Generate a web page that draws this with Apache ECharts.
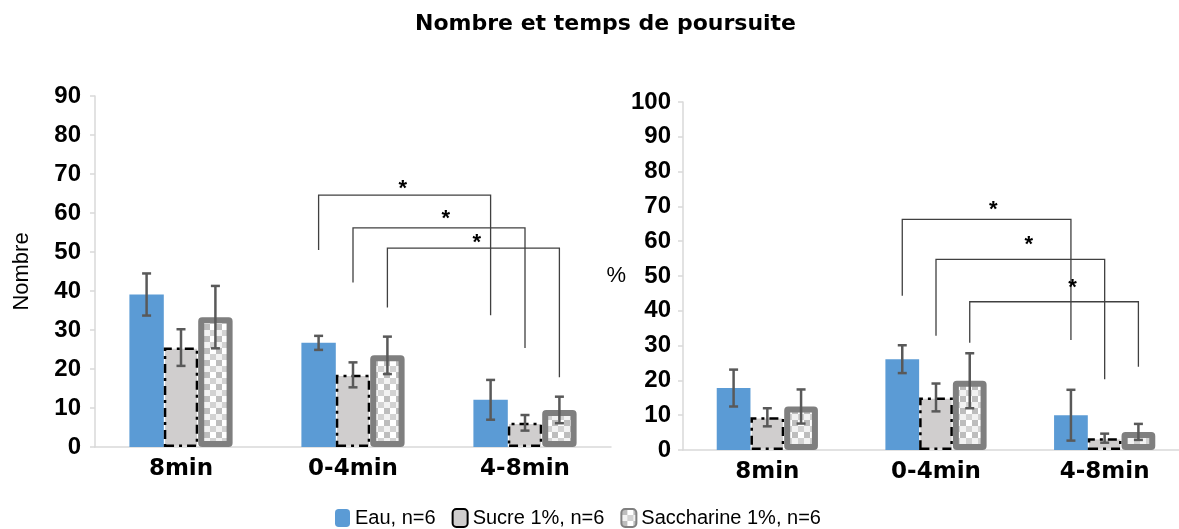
<!DOCTYPE html>
<html>
<head>
<meta charset="utf-8">
<script src="https://cdn.jsdelivr.net/npm/echarts@6/dist/echarts.min.js"></script>
<style>html,body{margin:0;padding:0;background:#fff;overflow:hidden;}#c{width:1179px;height:529px;}</style>
</head>
<body>
<div id="c"></div>
<script>
// ---- data ----
const categories = ['8min', '0-4min', '4-8min'];
const seriesNames = ['Eau, n=6', 'Sucre 1%, n=6', 'Saccharine 1%, n=6'];
const titleText = 'Nombre et temps de poursuite';

const nombreEau = [39.1, 26.7, 12.1];
const nombreSucre = [25.5, 18.5, 6.2];
const nombreSacch = [33.3, 23.5, 9.5];
const nombreEauErr = [5.4, 1.8, 5.1];
const nombreSucreErr = [4.7, 3.2, 2.0];
const nombreSacchErr = [8.0, 4.8, 3.4];

const pctEau = [17.8, 26.1, 10.0];
const pctSucre = [9.4, 15.1, 3.4];
const pctSacch = [12.5, 19.9, 5.2];
const pctEauErr = [5.3, 4.0, 7.3];
const pctSucreErr = [2.6, 4.0, 1.3];
const pctSacchErr = [4.9, 7.9, 2.3];

const nombreAxis = { min: 0, max: 90, interval: 10, name: 'Nombre' };
const pctAxis = { min: 0, max: 100, interval: 10, name: '%' };

// significance brackets: [seriesIdx, fromCat, toCat, leftEnd, top, rightEnd, starFrac, starValue]
const nombreBrackets = [
  [0, 1, 2, 50.5, 64.6, 33.8, 0.49, 67.4],
  [1, 1, 2, 42.2, 56.2, 25.4, 0.54, 59.7],
  [2, 1, 2, 35.8, 51.0, 17.9, 0.52, 53.6]
];
const pctBrackets = [
  [0, 1, 2, 44.3, 66.3, 31.6, 0.54, 70.4],
  [1, 1, 2, 32.8, 54.8, 20.3, 0.55, 60.3],
  [2, 1, 2, 30.8, 42.6, 23.9, 0.61, 48.0]
];

// ---- styles ----
function makeChecker() {
  const c = document.createElement('canvas');
  c.width = 12; c.height = 12;
  const g = c.getContext('2d');
  g.fillStyle = '#f2f2f2'; g.fillRect(0, 0, 12, 12);
  g.fillStyle = '#bdbdbd'; g.fillRect(0, 0, 6, 6);
  g.fillStyle = '#d2d2d2'; g.fillRect(6, 6, 6, 6);
  g.fillStyle = '#ffffff'; g.fillRect(6, 0, 6, 6);
  return c;
}
const checker = makeChecker();
const styles = [
  { color: '#5B9BD5' },
  { color: '#D0CECE', borderColor: '#000', borderWidth: 2.5, borderType: [9, 5, 3, 5] },
  { color: { image: checker, repeat: 'repeat' }, borderColor: '#7F7F7F', borderWidth: 6, borderRadius: 1 }
];

const BAND_FRAC = 0.2; // bar width / band width (barCategoryGap 40%, 3 bars)

function errData(vals, errs) {
  const out = [];
  vals.forEach((v, s) => v.forEach((x, c) => out.push([c, s, x - errs[s][c], x + errs[s][c]])));
  return out;
}
function renderErr(params, api) {
  const c = api.value(0), s = api.value(1);
  const band = api.size([1, 0])[0];
  const cx = api.coord([c, 0])[0] + (s - 1) * band * BAND_FRAC;
  const yl = api.coord([c, api.value(2)])[1];
  const yh = api.coord([c, api.value(3)])[1];
  const st = { stroke: '#595959', lineWidth: 2.5 };
  const w = 4.5;
  return { type: 'group', children: [
    { type: 'line', shape: { x1: cx, y1: yh, x2: cx, y2: yl }, style: st },
    { type: 'line', shape: { x1: cx - w, y1: yh, x2: cx + w, y2: yh }, style: st },
    { type: 'line', shape: { x1: cx - w, y1: yl, x2: cx + w, y2: yl }, style: st }
  ]};
}
function renderBracket(params, api) {
  const s = api.value(0), c1 = api.value(1), c2 = api.value(2);
  const band = api.size([1, 0])[0];
  const x1 = api.coord([c1, 0])[0] + (s - 1) * band * BAND_FRAC;
  const x2 = api.coord([c2, 0])[0] + (s - 1) * band * BAND_FRAC;
  const yL = api.coord([c1, api.value(3)])[1];
  const yT = api.coord([c1, api.value(4)])[1];
  const yR = api.coord([c2, api.value(5)])[1];
  const sx = x1 + (x2 - x1) * api.value(6);
  const sy = api.coord([c1, api.value(7)])[1];
  return { type: 'group', children: [
    { type: 'polyline', shape: { points: [[x1, yL], [x1, yT], [x2, yT], [x2, yR]] },
      style: { stroke: '#404040', lineWidth: 1.3, fill: null } },
    { type: 'text', x: sx, y: sy + 5, style: { text: '*', fill: '#000', font: 'bold 22px "Liberation Sans"', align: 'center', verticalAlign: 'middle' } }
  ]};
}

const axisLabelY = { color: '#000', fontFamily: 'Liberation Sans', fontWeight: 'bold', fontSize: 24 };
const axisLabelX = { color: '#000', fontFamily: 'DejaVu Sans', fontWeight: 'bold', fontSize: 23, margin: 11 };
const axisLine = { show: true, lineStyle: { color: '#D9D9D9', width: 1.5 } };

function yAxisCfg(ax, gridIndex, nameCfg, margin) {
  return Object.assign({
    type: 'value', gridIndex: gridIndex, min: ax.min, max: ax.max, interval: ax.interval,
    name: ax.name, nameLocation: 'middle',
    nameTextStyle: { color: '#000', fontFamily: 'Liberation Sans', fontSize: 22 },
    axisLine: axisLine, axisTick: { show: true, length: 5, lineStyle: { color: '#D9D9D9', width: 1.5 } },
    splitLine: { show: false },
    axisLabel: Object.assign({ margin: margin }, axisLabelY)
  }, nameCfg);
}

function barSeries(vals, axisIdx) {
  return vals.map((v, s) => ({
    type: 'bar', name: seriesNames[s], xAxisIndex: axisIdx, yAxisIndex: axisIdx,
    data: v, barGap: '0%', barCategoryGap: '40%', itemStyle: styles[s], z: 2
  }));
}

const chart = echarts.init(document.getElementById('c'));
chart.setOption({
  animation: false,
  backgroundColor: '#fff',
  title: { text: titleText, left: 410, top: 8,
    textStyle: { fontFamily: 'DejaVu Sans', fontWeight: 'bold', fontSize: 22, color: '#000' } },
  legend: {
    data: seriesNames, left: 330, top: 503, itemWidth: 15, itemHeight: 18, itemGap: 16,
    textStyle: { fontFamily: 'Liberation Sans', fontSize: 20, color: '#000' }
  },
  grid: [
    { left: 95, top: 96, width: 516, height: 351, outerBoundsMode: 'none' },
    { left: 683, top: 102, width: 506, height: 348, outerBoundsMode: 'none' }
  ],
  xAxis: [
    { type: 'category', gridIndex: 0, data: categories, axisLine: axisLine, axisTick: { show: false }, axisLabel: axisLabelX },
    { type: 'category', gridIndex: 1, data: categories, axisLine: axisLine, axisTick: { show: false }, axisLabel: axisLabelX }
  ],
  yAxis: [
    yAxisCfg(nombreAxis, 0, { nameGap: 62 }, 14),
    yAxisCfg(pctAxis, 1, { nameGap: 55, nameRotate: 0 }, 12)
  ],
  series: [].concat(
    barSeries([nombreEau, nombreSucre, nombreSacch], 0),
    barSeries([pctEau, pctSucre, pctSacch], 1),
    [
      { type: 'custom', name: 'errNombre', xAxisIndex: 0, yAxisIndex: 0, z: 5, clip: false,
        renderItem: renderErr, encode: { x: 0, y: [2, 3] },
        data: errData([nombreEau, nombreSucre, nombreSacch], [nombreEauErr, nombreSucreErr, nombreSacchErr]) },
      { type: 'custom', name: 'errPct', xAxisIndex: 1, yAxisIndex: 1, z: 5, clip: false,
        renderItem: renderErr, encode: { x: 0, y: [2, 3] },
        data: errData([pctEau, pctSucre, pctSacch], [pctEauErr, pctSucreErr, pctSacchErr]) },
      { type: 'custom', name: 'brNombre', xAxisIndex: 0, yAxisIndex: 0, z: 6, clip: false,
        renderItem: renderBracket, encode: { x: 1, y: 4 }, data: nombreBrackets },
      { type: 'custom', name: 'brPct', xAxisIndex: 1, yAxisIndex: 1, z: 6, clip: false,
        renderItem: renderBracket, encode: { x: 1, y: 4 }, data: pctBrackets }
    ]
  )
});
</script>
</body>
</html>
